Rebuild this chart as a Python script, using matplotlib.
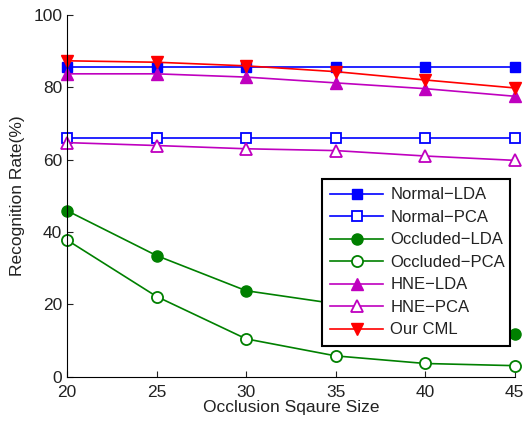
import matplotlib
matplotlib.use("Agg")
import matplotlib.pyplot as plt

plt.rcParams['font.family'] = ['Liberation Sans', 'DejaVu Sans']

sizes = [20, 25, 30, 35, 40, 45]
normal_lda = [85.5, 85.5, 85.5, 85.5, 85.5, 85.5]
normal_pca = [66.0, 66.0, 66.0, 66.0, 66.0, 66.0]
occluded_lda = [45.9, 33.5, 23.8, 20.2, 16.0, 11.9]
occluded_pca = [37.8, 22.2, 10.5, 5.8, 3.7, 3.1]
hne_lda = [83.7, 83.7, 82.8, 81.2, 79.6, 77.5]
hne_pca = [64.7, 63.9, 63.0, 62.5, 61.0, 59.8]
our_cml = [87.3, 86.9, 85.9, 84.3, 82.0, 79.8]

fig = plt.figure(figsize=(5.28, 4.23), dpi=100)
ax = fig.add_axes([0.127, 0.109, 0.848, 0.856])

blue = (0, 0, 1)
green = (0, 0.5, 0)
mag = (0.75, 0, 0.75)
red = (1, 0, 0)
lw = 1.2
ms = 7

ax.plot(sizes, normal_lda, '-s', color=blue, mfc=blue, mec=blue, lw=lw, ms=ms, label='Normal\u2212LDA', clip_on=False)
ax.plot(sizes, normal_pca, '-s', color=blue, mfc='white', mec=blue, mew=1.3, lw=lw, ms=ms, label='Normal\u2212PCA', clip_on=False)
ax.plot(sizes, occluded_lda, '-o', color=green, mfc=green, mec=green, lw=lw, ms=ms+1, label='Occluded\u2212LDA', clip_on=False)
ax.plot(sizes, occluded_pca, '-o', color=green, mfc='white', mec=green, mew=1.3, lw=lw, ms=ms+1, label='Occluded\u2212PCA', clip_on=False)
ax.plot(sizes, hne_lda, '-^', color=mag, mfc=mag, mec=mag, lw=lw, ms=ms+1.5, label='HNE\u2212LDA', clip_on=False)
ax.plot(sizes, hne_pca, '-^', color=mag, mfc='white', mec=mag, mew=1.3, lw=lw, ms=ms+1.5, label='HNE\u2212PCA', clip_on=False)
ax.plot(sizes, our_cml, '-v', color=red, mfc=red, mec=red, lw=lw, ms=ms+1.5, label='Our CML', clip_on=False)

ax.set_xlim(20, 45)
ax.set_ylim(0, 100)
ax.set_xticks(sizes)
ax.set_yticks([0, 20, 40, 60, 80, 100])
ax.spines['top'].set_visible(False)
ax.spines['right'].set_visible(False)
ax.tick_params(direction='in', labelsize=12.5, length=4, colors='#222222')
ax.tick_params(axis='x', pad=6)
ax.set_xlabel('Occlusion Sqaure Size', fontsize=12.5, labelpad=0, color='#222222')
ax.set_ylabel('Recognition Rate(%)', fontsize=12.5, labelpad=6, color='#222222')

leg = ax.legend(loc='lower left', bbox_to_anchor=(0.569, 0.086, 0.42, 0.48), mode='expand',
                fontsize=12, frameon=True, fancybox=False, framealpha=1, edgecolor='black',
                handlelength=3.2, borderpad=0.5, labelspacing=0.45, handletextpad=0.4,
                borderaxespad=0)
leg.get_frame().set_linewidth(1.5)
for t in leg.get_texts():
    t.set_color('#222222')

fig.savefig('out.png', dpi=100)
